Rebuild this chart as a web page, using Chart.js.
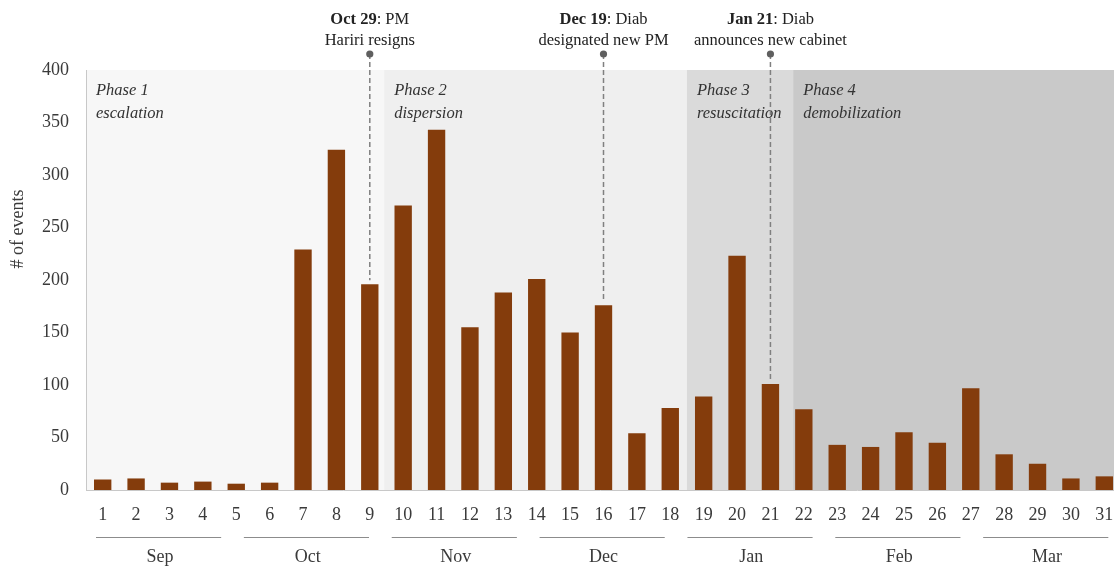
<!DOCTYPE html>
<html><head><meta charset="utf-8">
<script src="https://cdn.jsdelivr.net/npm/chart.js@4.4.0/dist/chart.umd.min.js"></script>
<style>
html,body{margin:0;padding:0;overflow:hidden;background:#fff}
#c{position:absolute;left:0;top:0;width:1114px;height:572px}
</style>
</head><body>
<canvas id="c" width="1114" height="572"></canvas>
<script>
// ---- data ----
const weeks = ['1','2','3','4','5','6','7','8','9','10','11','12','13','14','15','16','17','18','19','20','21','22','23','24','25','26','27','28','29','30','31'];
const events = [10,11,7,8,6,7,229,324,196,271,343,155,188,201,150,176,54,78,89,223,101,77,43,41,55,45,97,34,25,11,13];
const months = ['Sep','Oct','Nov','Dec','Jan','Feb','Mar'];
const phaseNames = ['Phase 1','Phase 2','Phase 3','Phase 4'];
const phaseKinds = ['escalation','dispersion','resuscitation','demobilization'];
const phaseStartWeek = [0.5, 9.43, 18.5, 21.68];
const phaseEndWeek = 31.5;
const eventWeeks = [9, 16, 21];
const eventDates = ['Oct 29', 'Dec 19', 'Jan 21'];
const eventLine1 = [': PM', ': Diab', ': Diab'];
const eventLine2 = ['Hariri resigns', 'designated new PM', 'announces new cabinet'];
const yMax = 400, yStep = 50;

// ---- styles ----
const FONT = '"Liberation Serif", "DejaVu Serif", serif';
const TXT = '#3a3a3a';
const BAR = '#843c0c';
const phaseColors = ['#f7f7f7', '#efefef', '#dadada', '#c9c9c9'];
const PLOT_RIGHT = 1121; // plot area runs slightly past the picture's right edge

const extendPlugin = {
  id: 'extendRight',
  afterLayout(chart) {
    const x = chart.scales.x;
    x.right = PLOT_RIGHT;
    x.width = x.right - x.left;
    chart.chartArea.right = PLOT_RIGHT;
    chart.chartArea.width = PLOT_RIGHT - chart.chartArea.left;
    x.configure();
    if (x._computeLabelItems) x._labelItems = null;
  }
};

const bgPlugin = {
  id: 'phases',
  beforeDraw(chart) {
    const {ctx, chartArea: a, scales: {x}} = chart;
    ctx.save();
    for (let i = 0; i < phaseStartWeek.length; i++) {
      const s = x.getPixelForValue(phaseStartWeek[i] - 1);
      const e = x.getPixelForValue((i + 1 < phaseStartWeek.length ? phaseStartWeek[i + 1] : phaseEndWeek) - 1);
      ctx.fillStyle = phaseColors[i];
      ctx.fillRect(s, a.top, e - s, a.bottom - a.top);
    }
    ctx.restore();
  },
  afterDraw(chart) {
    const {ctx, chartArea: a, scales: {x, y}} = chart;
    ctx.save();
    // phase labels
    ctx.fillStyle = '#333';
    ctx.font = 'italic 16.5px ' + FONT;
    ctx.textAlign = 'left';
    ctx.textBaseline = 'alphabetic';
    for (let i = 0; i < phaseNames.length; i++) {
      const s = x.getPixelForValue(phaseStartWeek[i] - 1);
      ctx.fillText(phaseNames[i], s + 10, a.top + 25);
      ctx.fillText(phaseKinds[i], s + 10, a.top + 48);
    }
    // annotations
    for (let i = 0; i < eventWeeks.length; i++) {
      const idx = eventWeeks[i] - 1;
      const cx = x.getPixelForValue(idx);
      const topY = y.getPixelForValue(events[idx]);
      const dotY = 54;
      ctx.strokeStyle = '#808080';
      ctx.lineWidth = 1.5;
      ctx.setLineDash([5, 3]);
      ctx.beginPath();
      ctx.moveTo(cx, dotY);
      ctx.lineTo(cx, topY - 4);
      ctx.stroke();
      ctx.setLineDash([]);
      ctx.fillStyle = '#5f5f5f';
      ctx.beginPath();
      ctx.arc(cx, dotY, 3.6, 0, Math.PI * 2);
      ctx.fill();
      // text
      ctx.fillStyle = '#222';
      ctx.font = 'bold 16.5px ' + FONT;
      const wb = ctx.measureText(eventDates[i]).width;
      ctx.font = '16.5px ' + FONT;
      const wn = ctx.measureText(eventLine1[i]).width;
      let sx = cx - (wb + wn) / 2;
      ctx.textAlign = 'left';
      ctx.font = 'bold 16.5px ' + FONT;
      ctx.fillText(eventDates[i], sx, 24);
      ctx.font = '16.5px ' + FONT;
      ctx.fillText(eventLine1[i], sx + wb, 24);
      ctx.textAlign = 'center';
      ctx.fillText(eventLine2[i], cx, 45);
    }
    // month groups
    const n = weeks.length, per = n / months.length;
    ctx.strokeStyle = '#8c8c8c';
    ctx.lineWidth = 1;
    ctx.fillStyle = TXT;
    ctx.font = '18px ' + FONT;
    ctx.textAlign = 'center';
    ctx.textBaseline = 'middle';
    for (let i = 0; i < months.length; i++) {
      const s = -0.5 + i * per, e = s + per;
      const x1 = x.getPixelForValue(s + 0.3), x2 = x.getPixelForValue(e - 0.38);
      ctx.beginPath();
      ctx.moveTo(x1, 537.5);
      ctx.lineTo(x2, 537.5);
      ctx.stroke();
      ctx.fillText(months[i], x.getPixelForValue((s + e) / 2), 557);
    }
    // y title
    ctx.translate(18, 229);
    ctx.rotate(-Math.PI / 2);
    ctx.fillText('# of events', 0, 0);
    ctx.restore();
  }
};

new Chart(document.getElementById('c'), {
  type: 'bar',
  data: {
    labels: weeks,
    datasets: [{
      data: events,
      backgroundColor: BAR,
      borderWidth: 0,
      barPercentage: 0.52,
      categoryPercentage: 1
    }]
  },
  options: {
    responsive: false,
    maintainAspectRatio: false,
    devicePixelRatio: 1,
    animation: false,
    events: [],
    layout: {padding: {top: 70, left: 0, right: 0, bottom: 0}},
    plugins: {legend: {display: false}, tooltip: {enabled: false}},
    scales: {
      x: {
        grid: {display: false, drawTicks: false},
        border: {display: true, color: '#c8c8c8', width: 1},
        ticks: {color: TXT, font: {family: FONT, size: 18}, padding: 14, maxRotation: 0, autoSkip: false},
        afterFit(axis) { axis.height = 82; }
      },
      y: {
        min: 0, max: yMax,
        grid: {display: false, drawTicks: false},
        border: {display: true, color: '#c8c8c8', width: 1},
        ticks: {stepSize: yStep, color: TXT, font: {family: FONT, size: 18}, padding: 17},
        afterFit(axis) { axis.width = 86; }
      }
    }
  },
  plugins: [extendPlugin, bgPlugin]
});
</script>
</body></html>
